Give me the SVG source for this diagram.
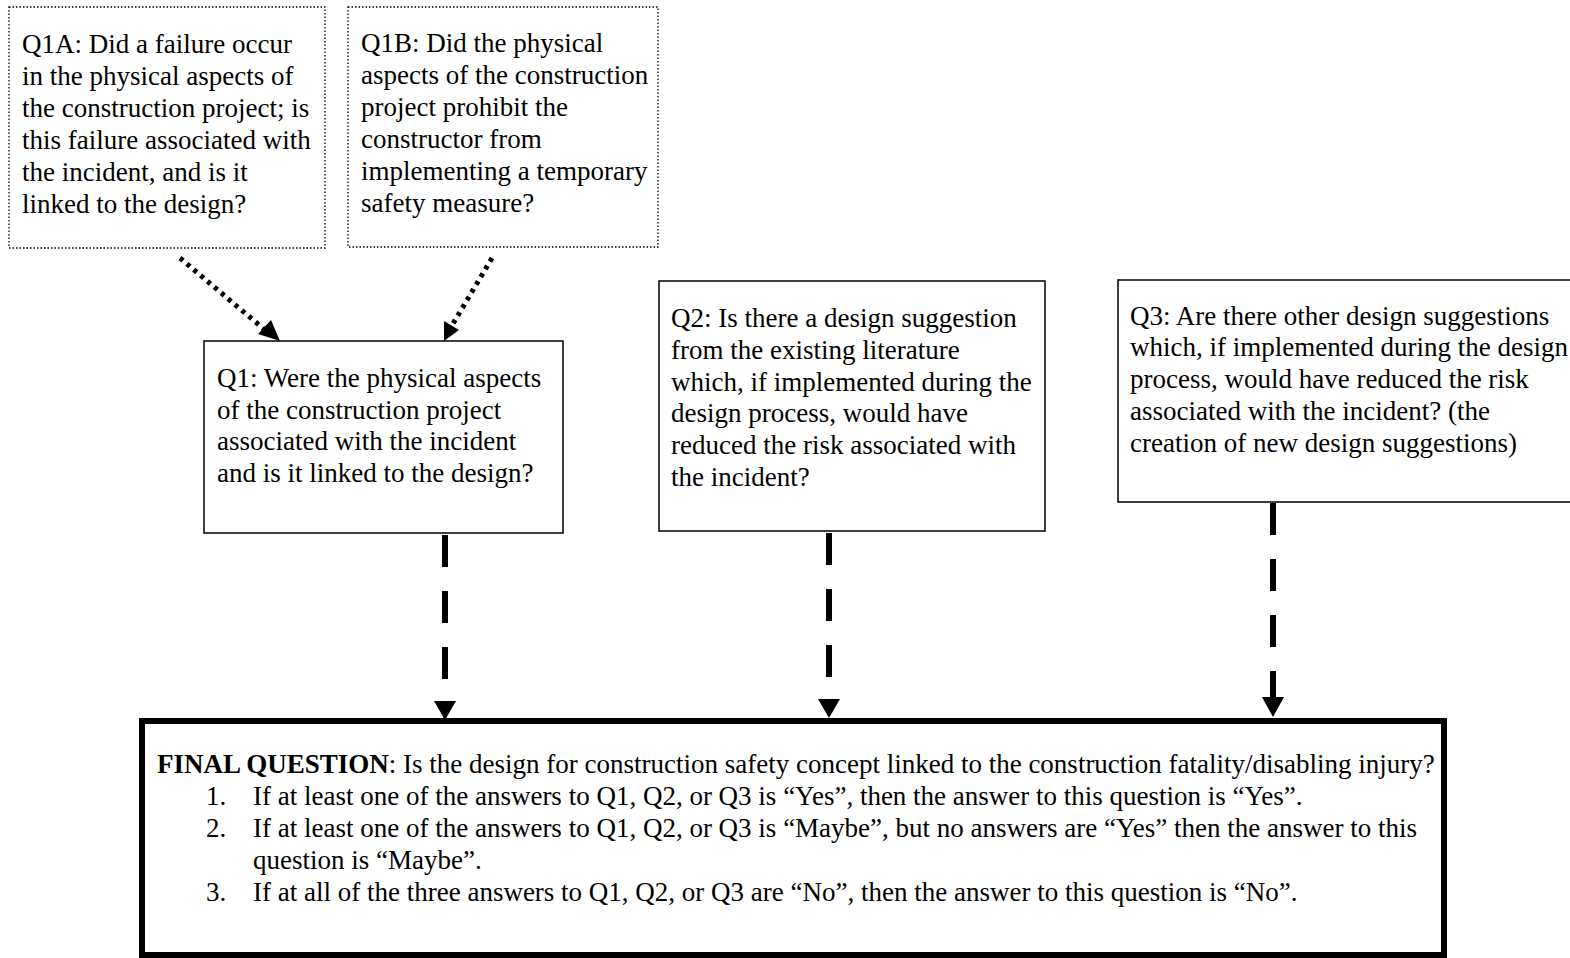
<svg xmlns="http://www.w3.org/2000/svg" width="1570" height="958" viewBox="0 0 1570 958">
<defs>
<style>
text{font-family:"Liberation Serif","Times New Roman",serif;font-size:27px;fill:#000}
.dot{fill:#fff;stroke:#000;stroke-width:1.3;stroke-dasharray:1.5 2}
.box{fill:#fff;stroke:#000;stroke-width:1.5}
.final{fill:#fff;stroke:#000;stroke-width:6}
.dotarrow{stroke:#000;stroke-width:5;stroke-dasharray:4 5;fill:none}
.dash{stroke:#000;stroke-width:6;stroke-dasharray:32 24;fill:none}
</style>
</defs>
<rect width="1570" height="958" fill="#fff"/>
<g id="q1a">
<rect class="dot" x="9" y="7" width="316" height="241"/>
<text x="22" y="53">Q1A: Did a failure occur</text>
<text x="22" y="85">in the physical aspects of</text>
<text x="22" y="117">the construction project; is</text>
<text x="22" y="149">this failure associated with</text>
<text x="22" y="181">the incident, and is it</text>
<text x="22" y="213">linked to the design?</text>
</g>
<g id="q1b">
<rect class="dot" x="348" y="7" width="310" height="240"/>
<text x="361" y="52">Q1B: Did the physical</text>
<text x="361" y="84">aspects of the construction</text>
<text x="361" y="116">project prohibit the</text>
<text x="361" y="148">constructor from</text>
<text x="361" y="180">implementing a temporary</text>
<text x="361" y="212">safety measure?</text>
</g>
<g id="q1">
<rect class="box" x="204" y="341" width="359" height="192"/>
<text x="217" y="387">Q1: Were the physical aspects</text>
<text x="217" y="419">of the construction project</text>
<text x="217" y="450">associated with the incident</text>
<text x="217" y="482">and is it linked to the design?</text>
</g>
<g id="q2">
<rect class="box" x="659" y="281" width="386" height="250"/>
<text x="671" y="327">Q2: Is there a design suggestion</text>
<text x="671" y="359">from the existing literature</text>
<text x="671" y="391">which, if implemented during the</text>
<text x="671" y="422">design process, would have</text>
<text x="671" y="454">reduced the risk associated with</text>
<text x="671" y="486">the incident?</text>
</g>
<g id="q3">
<rect class="box" x="1118" y="280" width="460" height="222"/>
<text x="1130" y="325">Q3: Are there other design suggestions</text>
<text x="1130" y="356">which, if implemented during the design</text>
<text x="1130" y="388">process, would have reduced the risk</text>
<text x="1130" y="420">associated with the incident? (the</text>
<text x="1130" y="452">creation of new design suggestions)</text>
</g>
<g id="final">
<rect class="final" x="142" y="721" width="1302" height="234"/>
<text x="157" y="773"><tspan font-weight="bold">FINAL QUESTION</tspan>: Is the design for construction safety concept linked to the construction fatality/disabling injury?</text>
<text x="206" y="805">1.</text>
<text x="253" y="805">If at least one of the answers to Q1, Q2, or Q3 is “Yes”, then the answer to this question is “Yes”.</text>
<text x="206" y="837">2.</text>
<text x="253" y="837">If at least one of the answers to Q1, Q2, or Q3 is “Maybe”, but no answers are “Yes” then the answer to this</text>
<text x="253" y="869">question is “Maybe”.</text>
<text x="206" y="901">3.</text>
<text x="253" y="901">If at all of the three answers to Q1, Q2, or Q3 are “No”, then the answer to this question is “No”.</text>
</g>
<g id="connectors">
<line class="dotarrow" x1="180" y1="258" x2="265" y2="330"/>
<path d="M280,341 L258,334 L271,320 Z" fill="#000"/>
<line class="dotarrow" x1="492" y1="258" x2="451" y2="327"/>
<path d="M444,341 L444,321 L459,330 Z" fill="#000"/>
<path class="dash" d="M445,535 V698"/>
<path d="M434,701 L456,701 L445,720 Z" fill="#000"/>
<path class="dash" d="M829,533 V698"/>
<path d="M818,699 L840,699 L829,718 Z" fill="#000"/>
<path class="dash" d="M1273,503 V700"/>
<path d="M1262,697 L1284,697 L1273,717 Z" fill="#000"/>
</g>
</svg>
